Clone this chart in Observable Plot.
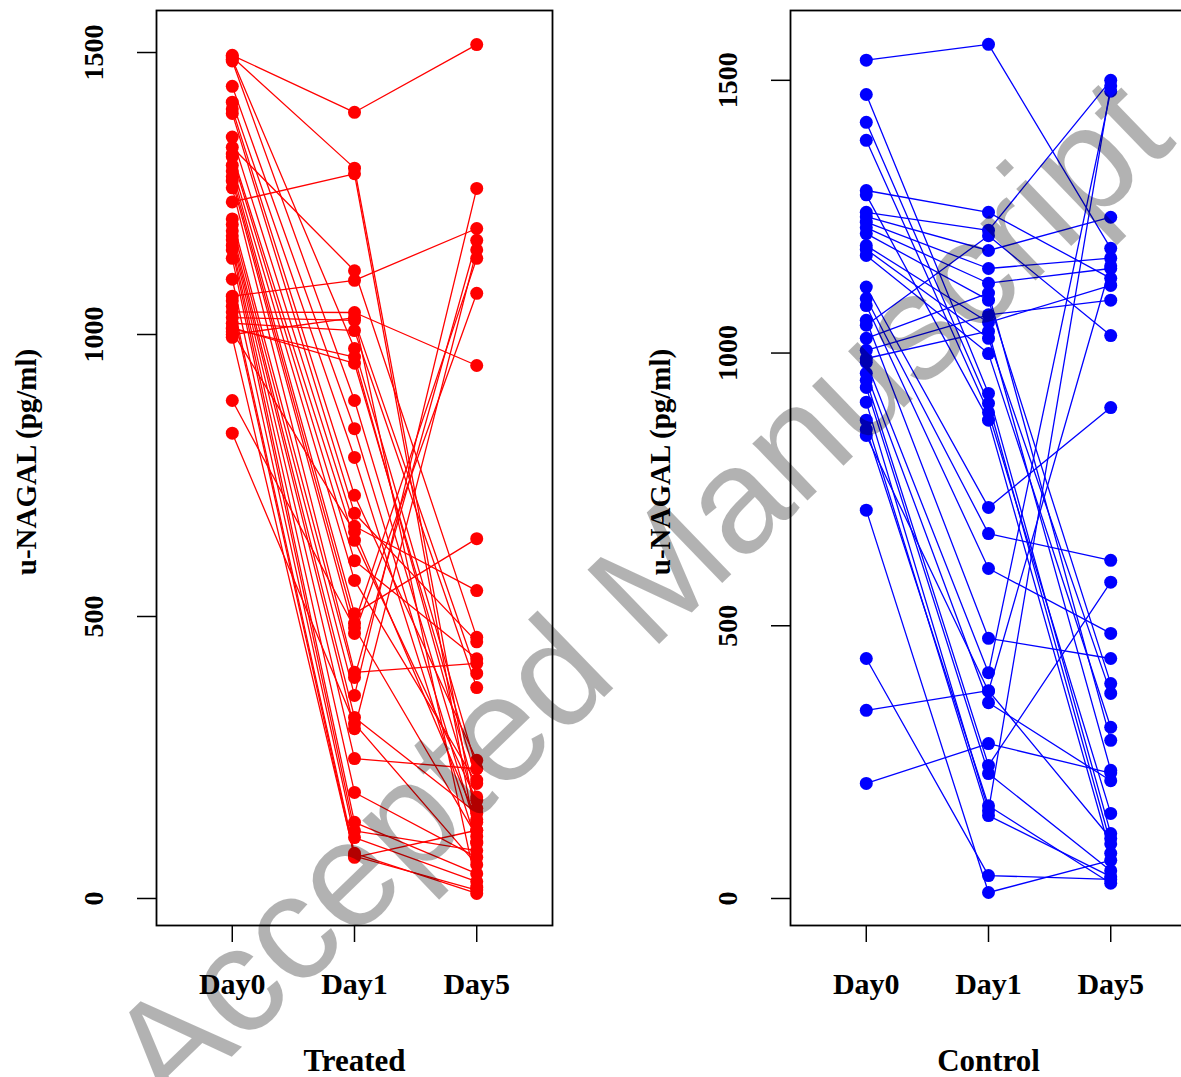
<!DOCTYPE html>
<html>
<head>
<meta charset="utf-8">
<script src="https://cdn.jsdelivr.net/npm/d3@7"></script>
<script src="https://cdn.jsdelivr.net/npm/@observablehq/plot@0.6"></script>
<style>
  html, body { margin: 0; padding: 0; background: #fff; width: 1181px; height: 1077px; overflow: hidden; }
  #wrap { position: relative; width: 1181px; height: 1077px; overflow: hidden; }
  .panel { position: absolute; top: 0; width: 600px; height: 1077px; }
  .panel svg { max-width: none !important; }
  #wm { position: absolute; left: 0; top: 0; width: 1181px; height: 1077px; pointer-events: none; overflow: hidden; }
  #wm div { position: absolute; white-space: nowrap; font-family: "Liberation Sans", Arial, sans-serif; font-size: 150px; color: rgba(0,0,0,0.3); line-height: 1; }
</style>
</head>
<body>
<div id="wrap">
  <div id="left" class="panel" style="left:0px"></div>
  <div id="right" class="panel" style="left:634px"></div>
  <div id="wm"><div id="wmtext">Accepted Manuscript</div></div>
</div>
<script>
// ---- data ----
const days = ["Day0", "Day1", "Day5"];
const yTicks = [0, 500, 1000, 1500];
const yLabel = "u-NAGAL (pg/ml)";

// Treated group: one entry per subject, aligned across the three arrays
const treatedDay0 = [1495, 1492, 1488, 1485, 1440, 1412, 1400, 1392, 1350, 1332, 1320, 1315, 1300, 1290, 1280, 1272, 1260, 1235, 1205, 1195, 1184, 1175, 1168, 1158, 1150, 1135, 1098, 1068, 1060, 1050, 1040, 1030, 1020, 1012, 1010, 1005, 1000, 995, 883, 825];
const treatedDay1 = [1394, 1295, 975, 883, 833, 782, 715, 683, 660, 1113, 635, 599, 564, 505, 488, 470, 401, 1285, 392, 360, 321, 301, 248, 188, 135, 120, 108, 1096, 80, 73, 1039, 1025, 1007, 949, 960, 650, 1030, 75, 480, 310];
const treatedDay5 = [1514, 135, 230, 160, 121, 98, 245, 455, 546, 463, 174, 425, 204, 638, 1135, 1073, 417, 100, 1167, 1259, 151, 1150, 230, 73, 44, 85, 30, 1188, 9, 121, 945, 399, 374, 210, 180, 140, 20, 15, 110, 60];

// Control group
const controlDay0 = [1537, 1474, 1423, 1390, 1298, 1290, 1258, 1250, 1240, 1230, 1219, 1197, 1190, 1179, 1121, 1100, 1087, 1060, 1051, 1027, 1005, 990, 983, 963, 950, 937, 910, 877, 860, 849, 712, 440, 345, 211];
const controlDay1 = [1566, 926, 908, 891, 1258, 877, 1225, 1188, 1155, 1128, 1097, 1056, 1027, 999, 717, 669, 605, 477, 1215, 1110, 1070, 1040, 414, 359, 244, 229, 161, 152, 170, 380, 11, 42, 381, 284];
const controlDay5 = [1192, 119, 100, 156, 1137, 83, 1500, 1249, 1174, 1155, 394, 1124, 376, 314, 900, 620, 486, 440, 1032, 290, 1097, 235, 1480, 216, 580, 51, 1490, 40, 28, 1160, 70, 35, 110, 230];

function longTable(d0, d1, d5) {
  const rows = [];
  [d0, d1, d5].forEach((arr, k) => arr.forEach((v, i) => rows.push({id: i, t: k + 1, v})));
  return rows;
}

function panel(rows, color, yDomain, title) {
  const serif = "'Liberation Serif', 'Times New Roman', serif";
  return Plot.plot({
    width: 600,
    height: 1077,
    marginLeft: 156,
    marginRight: 48,
    marginTop: 10,
    marginBottom: 152,
    style: {fontFamily: serif, fontWeight: "bold", background: "transparent", overflow: "visible", maxWidth: "none"},
    x: {domain: [0.38, 3.62], label: null},
    y: {domain: yDomain, label: null},
    marks: [
      Plot.axisX({ticks: [1, 2, 3], tickSize: 17, tickFormat: () => "", label: null, stroke: "#000", strokeWidth: 1.5}),
      Plot.axisY({ticks: yTicks, tickSize: 19, tickFormat: () => "", label: null, stroke: "#000", strokeWidth: 1.5}),
      Plot.text(days, {x: (d, i) => i + 1, text: d => d, frameAnchor: "bottom", dy: 68, fontSize: 30, fontWeight: "bold", fill: "#000"}),
      Plot.text(yTicks, {y: d => d, text: d => String(d), frameAnchor: "left", textAnchor: "middle", dx: -62, rotate: -90, fontSize: 28, fontWeight: "bold", fill: "#000"}),
      Plot.text([title], {text: d => d, frameAnchor: "bottom", dy: 145, fontSize: 31, fontWeight: "bold", fill: "#000"}),
      Plot.text([yLabel], {text: d => d, frameAnchor: "left", textAnchor: "middle", dx: -130, dy: -6, rotate: -90, fontSize: 29, fontWeight: "bold", fill: "#000"}),
      Plot.line(rows, {x: "t", y: "v", z: "id", stroke: color, strokeWidth: 1.3}),
      Plot.dot(rows, {x: "t", y: "v", fill: color, r: 6.5}),
      Plot.frame({stroke: "#000", strokeWidth: 1.8})
    ]
  });
}

document.getElementById("left").appendChild(
  panel(longTable(treatedDay0, treatedDay1, treatedDay5), "#ff0000", [-47.9, 1574.5], "Treated"));
document.getElementById("right").appendChild(
  panel(longTable(controlDay0, controlDay1, controlDay5), "#0000ff", [-49.5, 1628], "Control"));

// watermark placement
const wm = document.getElementById("wmtext");
wm.style.left = "638px";
wm.style.top = "592px";
wm.style.transform = "translate(-50%, -50%) rotate(-44deg)";
</script>
</body>
</html>
